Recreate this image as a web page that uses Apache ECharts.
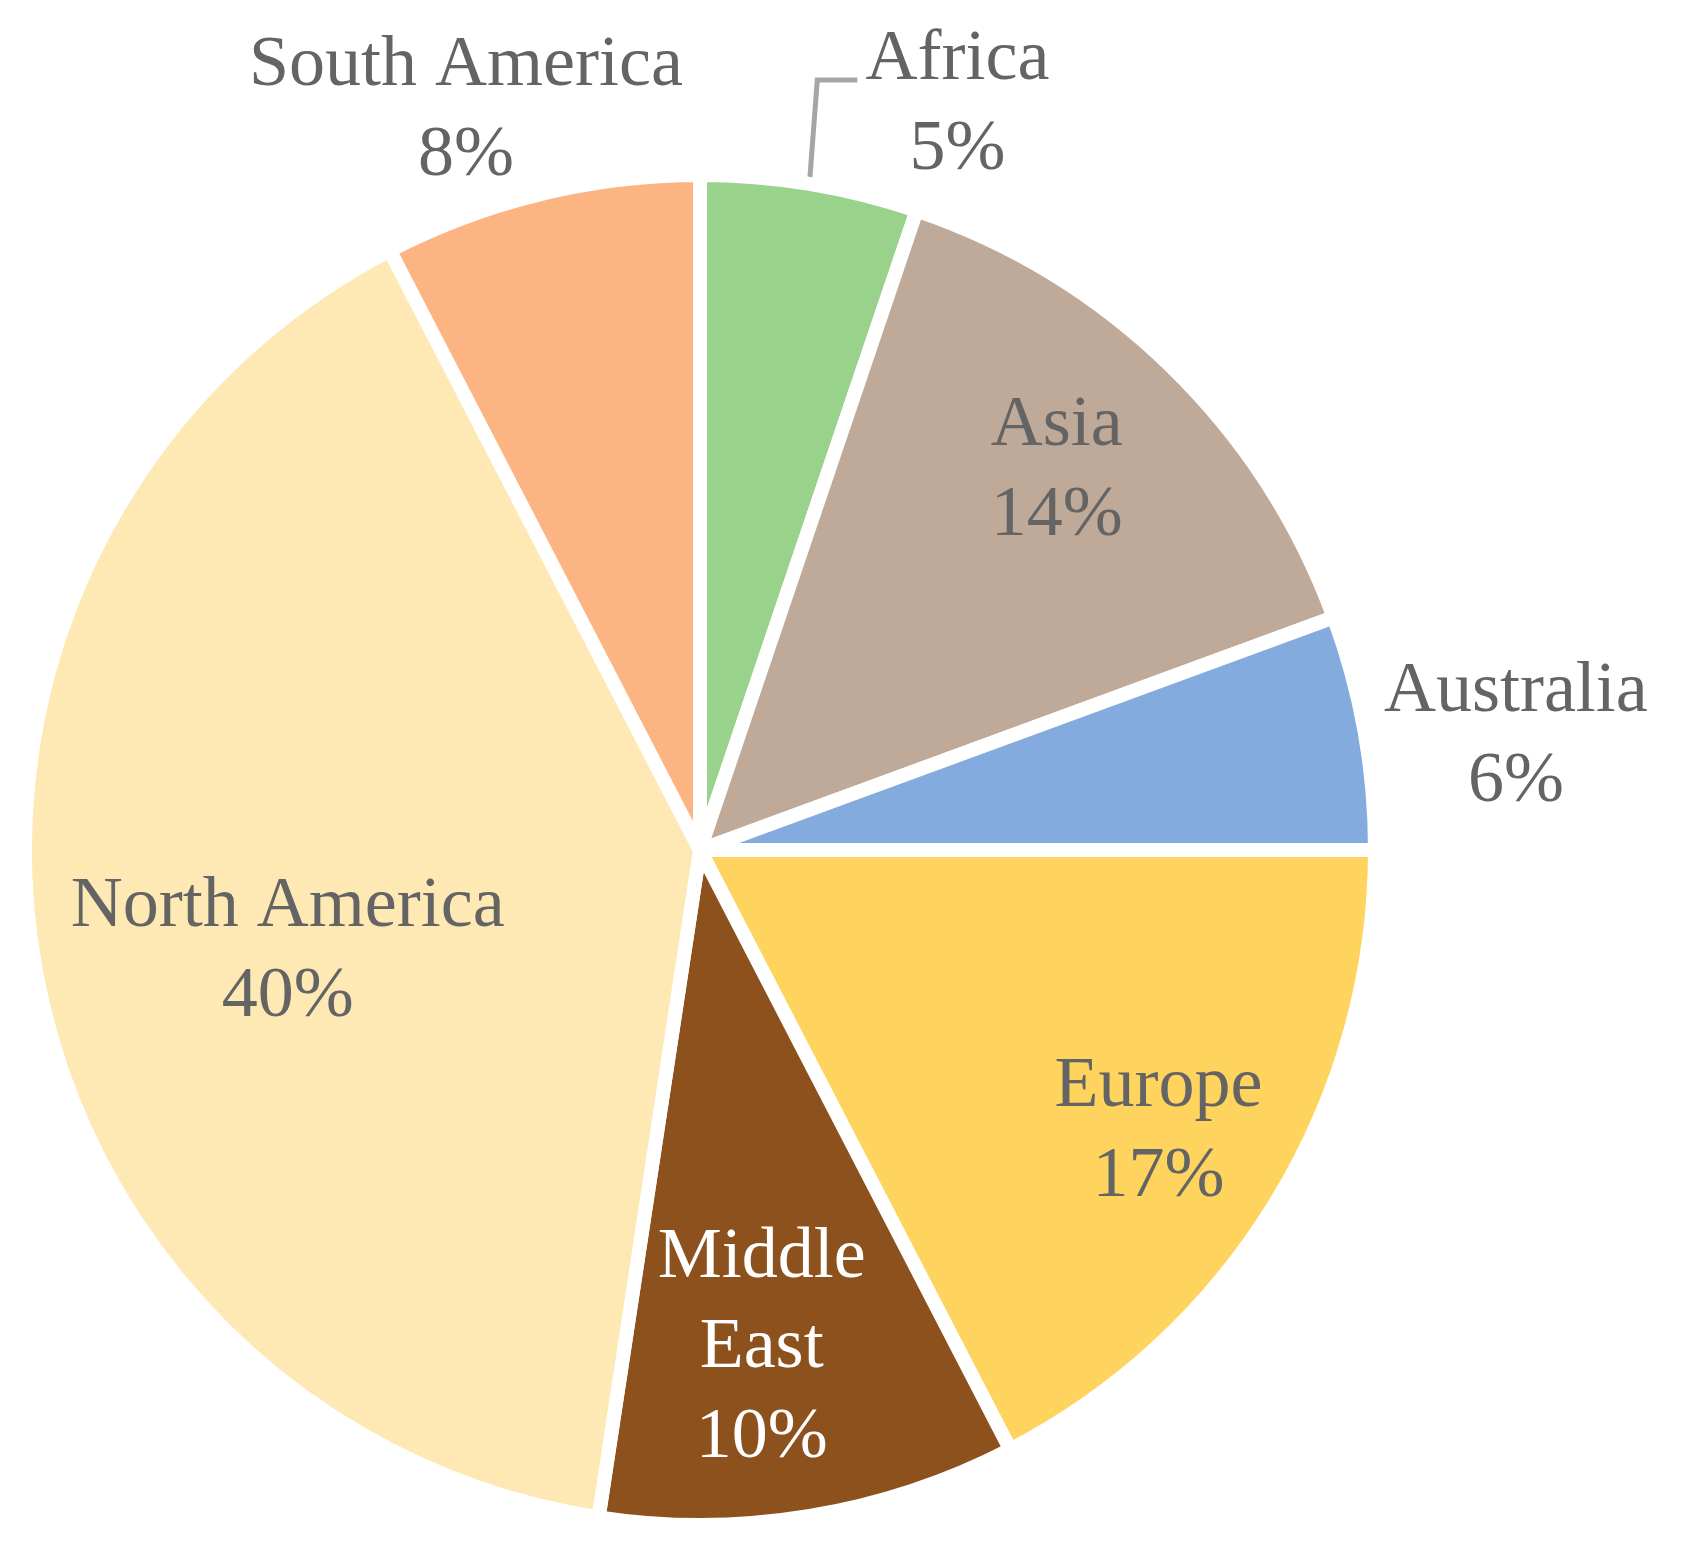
<!DOCTYPE html>
<html>
<head>
<meta charset="utf-8">
<script src="https://cdn.jsdelivr.net/npm/echarts@6/dist/echarts.min.js"></script>
<style>
  html, body { margin: 0; background: #fff; }
  #chart { width: 1693px; height: 1567px; }
</style>
</head>
<body>
<div id="chart"></div>
<script>
const regions = ['Africa', 'Asia', 'Australia', 'Europe', 'Middle East', 'North America', 'South America'];
const shares = [5.2, 14.2, 5.6, 17.4, 10.0, 40.0, 7.6];

const sliceColors = ['#98D28B', '#BFA998', '#84ABDE', '#FED45E', '#8C511D', '#FEE9B4', '#FDB483'];
const textColors = ['#646464', '#646464', '#646464', '#646464', '#FFFFFF', '#646464', '#646464'];
// where each label sits: distance from centre as part of the radius, and a turn (deg) off the slice middle
const labelRadius = [1.18, 0.779, 1.233, 0.806, 0.751, 0.636, 1.16];
const labelTurn = [9.7, -1.0, 2.2, 0.3, 2.3, -4.6, -3.9];

const cx = 700, cy = 850, R = 668;

const total = shares.reduce((a, b) => a + b, 0);
function midAngle(i) {
  let before = 0;
  for (let k = 0; k < i; k++) before += shares[k];
  return (before + shares[i] / 2) / total * 360;
}
function polar(r, deg) {
  const t = deg * Math.PI / 180;
  return [cx + r * Math.sin(t), cy - r * Math.cos(t)];
}

const chart = echarts.init(document.getElementById('chart'));

chart.setOption({
  backgroundColor: '#fff',
  animation: false,
  series: [{
    type: 'pie',
    center: [cx, cy],
    radius: R + 7,
    startAngle: 90,
    clockwise: true,
    avoidLabelOverlap: false,
    emphasis: { disabled: true },
    itemStyle: { borderColor: '#fff', borderWidth: 14 },
    label: {
      show: true,
      position: 'outside',
      fontFamily: 'Liberation Serif',
      fontSize: 72,
      lineHeight: 90,
      align: 'center',
      formatter: p => (p.name === 'Middle East' ? 'Middle\nEast' : p.name) + '\n' + Math.round(p.value) + '%'
    },
    labelLine: { show: false },
    labelLayout: p => {
      const i = p.dataIndex;
      const pos = polar(labelRadius[i] * R, midAngle(i) + labelTurn[i]);
      const out = { x: pos[0], y: pos[1], align: 'center', verticalAlign: 'middle' };
      if (i === 0) {
        const a = polar(R + 3, midAngle(i));
        const b = polar(1.166 * R, midAngle(i) - 0.7);
        out.labelLinePoints = [a, b, [b[0] + 40, b[1]]];
      }
      return out;
    },
    data: regions.map((name, i) => ({
      name: name,
      value: shares[i],
      itemStyle: { color: sliceColors[i] },
      label: { color: textColors[i] },
      labelLine: i === 0 ? { show: true, length: 10, length2: 10, lineStyle: { color: '#A5A5A5', width: 5 } } : { show: false }
    }))
  }]
});
</script>
</body>
</html>
